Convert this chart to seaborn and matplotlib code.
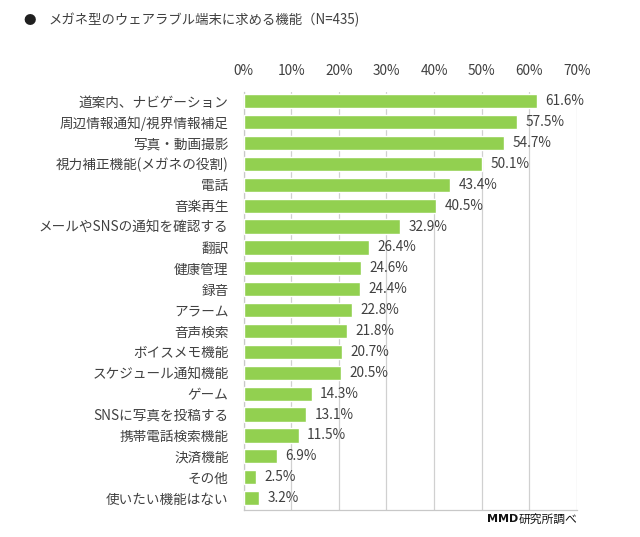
import matplotlib
matplotlib.use("Agg")
import matplotlib.pyplot as plt
import seaborn as sns
import pandas as pd
from matplotlib.ticker import FuncFormatter

categories = [
    "道案内、ナビゲーション", "周辺情報通知/視界情報補足", "写真・動画撮影",
    "視力補正機能(メガネの役割)", "電話", "音楽再生", "メールやSNSの通知を確認する",
    "翻訳", "健康管理", "録音", "アラーム", "音声検索", "ボイスメモ機能",
    "スケジュール通知機能", "ゲーム", "SNSに写真を投稿する", "携帯電話検索機能",
    "決済機能", "その他", "使いたい機能はない",
]
values = [61.6, 57.5, 54.7, 50.1, 43.4, 40.5, 32.9, 26.4, 24.6, 24.4,
          22.8, 21.8, 20.7, 20.5, 14.3, 13.1, 11.5, 6.9, 2.5, 3.2]
tick_values = [0, 10, 20, 30, 40, 50, 60, 70]

sns.set_theme(style="white")
plt.rcParams["font.family"] = ["Noto Sans CJK JP", "DejaVu Sans"]

df = pd.DataFrame({"cat": categories, "val": values})

fig = plt.figure(figsize=(6.4, 5.37), dpi=100)
ax = fig.add_axes([0.381, 0.0503, 0.520, 0.778])

sns.barplot(data=df, x="val", y="cat", orient="h", color="#92D050",
            saturation=1, width=0.68, ax=ax, zorder=3)

txt = "#404040"
ax.set_xlim(0, 70)
ax.set_ylim(19.57, -0.43)
ax.set_xticks(tick_values)
ax.xaxis.set_major_formatter(FuncFormatter(lambda v, p: f"{int(v)}%"))
ax.xaxis.tick_top()
ax.tick_params(axis="x", length=0, pad=10, labelsize=9.8, labelcolor=txt)
ax.tick_params(axis="y", length=0, pad=11, labelsize=9.8, labelcolor=txt)
ax.set_xlabel("")
ax.set_ylabel("")
ax.grid(axis="x", color="#d0d0d0", linewidth=0.9, zorder=0)
ax.set_axisbelow(True)
for s in ["top", "right"]:
    ax.spines[s].set_visible(False)
for s in ["left", "bottom"]:
    ax.spines[s].set_color("#c8c8c8")
    ax.spines[s].set_linewidth(0.9)

for i, v in enumerate(values):
    ax.annotate(f"{v:.1f}%", xy=(v, i), xytext=(6, 0), textcoords="offset points",
                va="center", ha="left", fontsize=9.8, color=txt)

fig.text(0.036, 0.962, "●", fontsize=9, color="#202020", va="center")
fig.text(0.075, 0.962, "メガネ型のウェアラブル端末に求める機能（N=435)",
         fontsize=9.6, color=txt, va="center")
fig.text(0.9016, 0.033, "研究所調べ", fontsize=8.5, color="#111111",
         va="center", ha="right")
fig.text(0.809, 0.033, "MMD", fontsize=8, fontweight="bold", color="#111111",
         va="center", ha="right", family=["DejaVu Sans"])

fig.savefig("out.png", dpi=100)
